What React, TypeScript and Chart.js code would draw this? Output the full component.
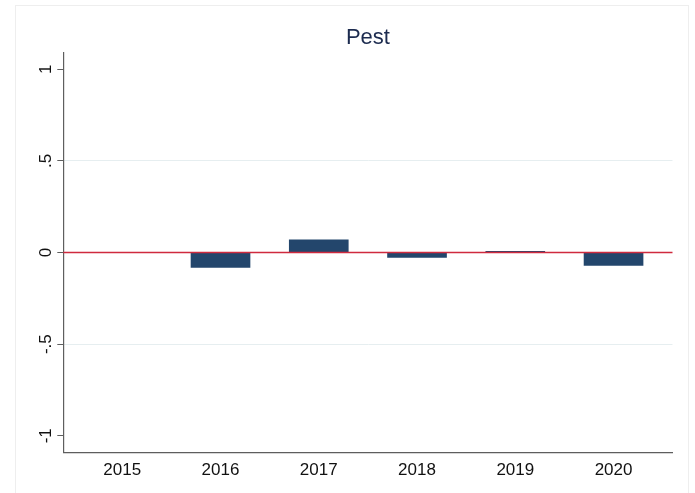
import { useEffect, useRef } from 'react';
import { Chart, registerables } from 'chart.js';

Chart.register(...registerables);

const years = [2015, 2016, 2017, 2018, 2019, 2020];
const values: (number | null)[] = [null, -0.082, 0.069, -0.027, 0.007, -0.071];
const yTicks = [-1, -0.5, 0, 0.5, 1];
const yTickLabels = ['-1', '-.5', '0', '.5', '1'];
const title = 'Pest';

const FONT = '"Liberation Sans", Arial, Helvetica, sans-serif';

export default function App() {
  const ref = useRef<HTMLCanvasElement>(null);

  useEffect(() => {
    const canvas = ref.current;
    if (!canvas) return;

    const framePlugin = {
      id: 'frame',
      beforeDraw(chart: any) {
        const ctx = chart.ctx;
        ctx.save();
        ctx.fillStyle = '#ffffff';
        ctx.fillRect(0, 0, chart.width, chart.height);
        ctx.strokeStyle = '#eeeeee';
        ctx.lineWidth = 1;
        ctx.strokeRect(15.5, 5.5, 673, 540);
        ctx.restore();
      },
    };

    const overlayPlugin = {
      id: 'overlay',
      afterDatasetsDraw(chart: any) {
        const { ctx, chartArea, scales } = chart;
        const y0 = scales.y.getPixelForValue(0);
        ctx.save();
        ctx.strokeStyle = '#cf2a3e';
        ctx.lineWidth = 1.5;
        ctx.beginPath();
        ctx.moveTo(chartArea.left, y0);
        ctx.lineTo(chartArea.right, y0);
        ctx.stroke();
        ctx.restore();
      },
      afterDraw(chart: any) {
        const { ctx, chartArea, scales } = chart;
        ctx.save();
        // title
        ctx.fillStyle = '#1c2b4f';
        ctx.font = `22px ${FONT}`;
        ctx.textAlign = 'center';
        ctx.textBaseline = 'alphabetic';
        ctx.fillText(title, (chartArea.left + chartArea.right) / 2, 43.7);
        // rotated y tick labels
        ctx.fillStyle = '#111111';
        ctx.font = `17px ${FONT}`;
        yTicks.forEach((v, i) => {
          const py = scales.y.getPixelForValue(v);
          ctx.save();
          ctx.translate(50.5, py);
          ctx.rotate(-Math.PI / 2);
          ctx.textAlign = 'center';
          ctx.textBaseline = 'alphabetic';
          ctx.fillText(yTickLabels[i], 0, 0);
          ctx.restore();
        });
        ctx.restore();
      },
    };

    const chart = new Chart(canvas, {
      type: 'bar',
      data: {
        datasets: [
          {
            data: years.map((yr, i) => ({ x: yr, y: values[i] })) as any,
            backgroundColor: '#23466c',
            borderWidth: 0,
            barThickness: 59,
          },
        ],
      },
      options: {
        responsive: false,
        animation: false,
        devicePixelRatio: 1,
        layout: { padding: { left: 0, right: 22.5, top: 52.7, bottom: 0 } },
        plugins: {
          legend: { display: false },
          title: { display: false },
          tooltip: { enabled: false },
        },
        scales: {
          x: {
            type: 'linear',
            min: 2014.4,
            max: 2020.6,
            offset: false,
            afterBuildTicks(scale: any) {
              scale.ticks = years.map((v) => ({ value: v }));
            },
            afterFit(scale: any) {
              scale.height = 40.7;
            },
            grid: { display: false, drawTicks: false },
            border: { display: true, color: '#5e5e5e', width: 1.2 },
            ticks: {
              color: '#111111',
              font: { family: FONT, size: 17 },
              padding: 8,
              maxRotation: 0,
              minRotation: 0,
              autoSkip: false,
              callback: (v: any) => String(v),
            },
          },
          y: {
            type: 'linear',
            min: -1.09,
            max: 1.09,
            afterBuildTicks(scale: any) {
              scale.ticks = yTicks.map((v) => ({ value: v }));
            },
            afterFit(scale: any) {
              scale.width = 63.3;
            },
            grid: {
              display: true,
              drawTicks: true,
              tickLength: 6,
              color: (ctx: any) =>
                ctx.tick && Math.abs(ctx.tick.value) === 0.5 ? '#e6eef0' : 'rgba(0,0,0,0)',
              tickColor: '#5e5e5e',
              lineWidth: 1,
            },
            border: { display: true, color: '#5e5e5e', width: 1.2 },
            ticks: { display: false },
          },
        },
      },
      plugins: [framePlugin, overlayPlugin],
    } as any);

    return () => chart.destroy();
  }, []);

  return (
    <div style={{ position: 'fixed', left: 0, top: 0, width: 695, height: 493, background: '#fff' }}>
      <canvas ref={ref} width={695} height={493} style={{ width: 695, height: 493, display: 'block' }} />
    </div>
  );
}
